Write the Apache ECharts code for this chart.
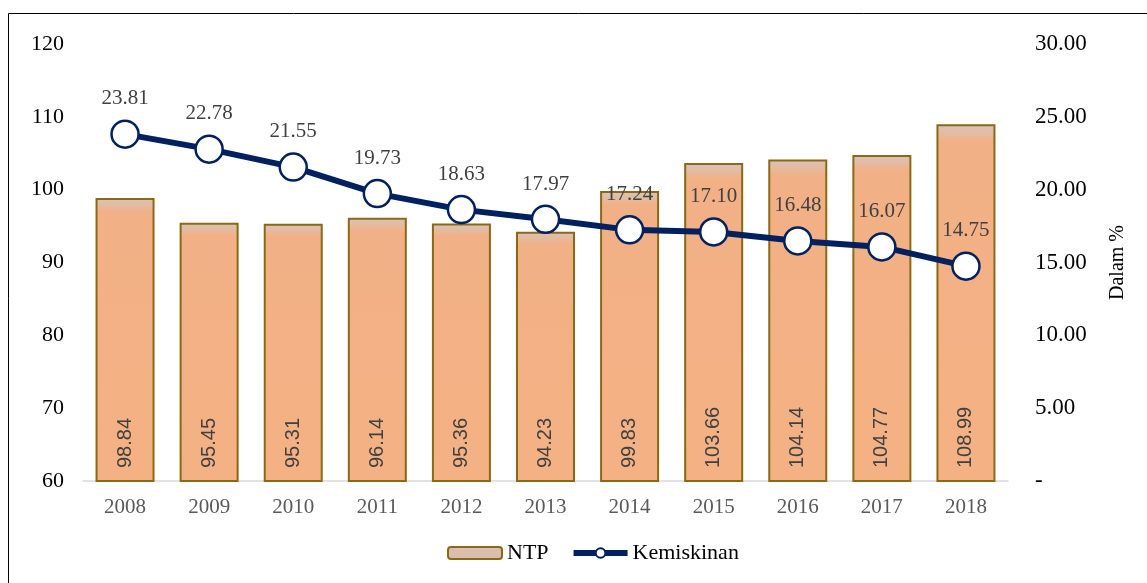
<!DOCTYPE html>
<html>
<head>
<meta charset="utf-8">
<script src="https://cdn.jsdelivr.net/npm/echarts@6/dist/echarts.min.js"></script>
<style>
  html, body { margin: 0; padding: 0; background: #fff; }
  #chart { width: 1147px; height: 583px; }
</style>
</head>
<body>
<div id="chart"></div>
<script>
const years = ['2008', '2009', '2010', '2011', '2012', '2013', '2014', '2015', '2016', '2017', '2018']
const ntp = [98.84, 95.45, 95.31, 96.14, 95.36, 94.23, 99.83, 103.66, 104.14, 104.77, 108.99]
const kemiskinan = [23.81, 22.78, 21.55, 19.73, 18.63, 17.97, 17.24, 17.10, 16.48, 16.07, 14.75]

const font = 'Liberation Serif'
const navy = '#002060'

const chart = echarts.init(document.getElementById('chart'))

chart.setOption({
  animation: false,
  textStyle: { fontFamily: font },
  graphic: [{
    type: 'rect',
    shape: { x: 8.5, y: 13.5, width: 1145, height: 600 },
    style: { fill: 'none', stroke: '#000', lineWidth: 1 },
    silent: true
  }],
  grid: { left: 83, right: 139, top: 44, bottom: 102 },
  legend: {
    bottom: 14,
    left: 442,
    itemWidth: 54,
    itemHeight: 12,
    itemGap: 22,
    textStyle: { fontFamily: font, fontSize: 22, color: '#000' },
    data: [
      { name: 'NTP', itemStyle: { color: '#DBBFAE', borderColor: '#8B6914', borderWidth: 2 } },
      { name: 'Kemiskinan', lineStyle: { width: 6, color: navy } }
    ]
  },
  xAxis: {
    type: 'category',
    data: years,
    axisLine: { lineStyle: { color: '#D9D9D9', width: 1.5 } },
    axisTick: { show: false },
    axisLabel: { color: '#595959', fontSize: 21, fontFamily: font, margin: 16 }
  },
  yAxis: [{
    type: 'value',
    min: 60,
    max: 120,
    interval: 10,
    splitLine: { show: false },
    axisLine: { show: false },
    axisTick: { show: false },
    axisLabel: { color: '#000', fontSize: 22, fontFamily: font, margin: 19 }
  }, {
    type: 'value',
    min: 0,
    max: 30,
    interval: 5,
    position: 'right',
    name: 'Dalam %',
    nameLocation: 'middle',
    nameRotate: 90,
    nameGap: 100,
    nameTextStyle: { color: '#000', fontSize: 20, fontFamily: font },
    splitLine: { show: false },
    axisLine: { show: false },
    axisTick: { show: false },
    axisLabel: {
      color: '#000', fontSize: 23, fontFamily: font, margin: 27,
      formatter: v => v === 0 ? '-' : v.toFixed(2)
    }
  }],
  series: [{
    name: 'NTP',
    type: 'bar',
    data: ntp,
    barWidth: 59,
    itemStyle: {
      color: new echarts.graphic.LinearGradient(0, 0, 0, 1, [
        { offset: 0, color: '#D6C5BC' },
        { offset: 0.05, color: '#F2B086' },
        { offset: 1, color: '#F4B183' }
      ]),
      borderColor: '#8B6914',
      borderWidth: 2
    },
    label: {
      show: true,
      position: 'insideBottom',
      rotate: 90,
      align: 'left',
      verticalAlign: 'middle',
      distance: 14,
      color: '#404040',
      fontSize: 20,
      fontFamily: 'Liberation Sans',
      formatter: p => p.value.toFixed(2)
    }
  }, {
    name: 'Kemiskinan',
    type: 'line',
    yAxisIndex: 1,
    data: kemiskinan,
    symbol: 'circle',
    symbolSize: 27,
    lineStyle: { color: navy, width: 6 },
    itemStyle: { color: '#fff', borderColor: navy, borderWidth: 2.5 },
    label: {
      show: true,
      position: 'top',
      distance: 10,
      color: '#404040',
      fontSize: 21,
      fontFamily: font,
      formatter: p => p.value.toFixed(2)
    },
    z: 5
  }]
})
</script>
</body>
</html>
